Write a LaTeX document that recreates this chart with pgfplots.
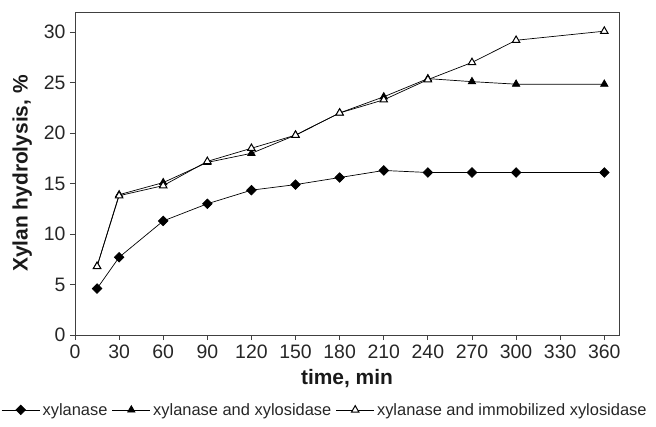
\documentclass[border=0pt]{standalone}
\usepackage{fontspec}
\setmainfont{Liberation Sans}
\usepackage{pgfplots}
\pgfplotsset{compat=1.18}

\begin{document}
\begin{tikzpicture}[x=1bp,y=1bp]
\path[use as bounding box] (-75,-91) rectangle (581,335);
\begin{axis}[
  at={(0,0)}, anchor=south west,
  width=544bp, height=323bp, scale only axis,
  xmin=0, xmax=370, ymin=0, ymax=32,
  xtick={0,30,...,360}, ytick={0,5,...,30},
  tick align=outside, tick pos=left,
  major tick length=5bp,
  /pgf/number format/assume math mode=true,
  ticklabel style={font=\fontsize{19.5}{20}\selectfont, text=black!85},
  xticklabel style={yshift=-1bp},
  yticklabel style={xshift=-1bp},
  xlabel={\textbf{time, min}}, ylabel={\textbf{Xylan hydrolysis, \%}},
  label style={font=\fontsize{21}{22}\selectfont, text=black!90},
  xlabel style={yshift=-4bp},
  ylabel style={yshift=5bp},
  axis line style={black!75, line width=0.9pt},
  every tick/.style={black!75, line width=0.8pt},
  legend columns=-1,
  legend style={draw=none, fill=none, at={(0.460,-0.232)}, anchor=center,
    inner sep=0pt, font=\fontsize{16.5}{17}\selectfont,
    nodes={inner xsep=2.5bp, text=black!85},
    /tikz/every even column/.append style={column sep=2bp}},
  legend image code/.code={
    \draw[#1] (0bp,0bp) -- (38bp,0bp);
    \draw[#1, only marks] plot coordinates {(19bp,0bp)};
  },
  every axis plot/.append style={black, line width=0.7pt},
]
% filled diamonds: a square turned by 45 degrees
\addplot[mark=square*, mark size=3.4pt, mark options={fill=black, solid, rotate=45}] coordinates {
  (15,4.6) (30,7.7) (60,11.3) (90,13.0) (120,14.35) (150,14.9)
  (180,15.6) (210,16.3) (240,16.1) (270,16.1) (300,16.1) (360,16.1)};
\addlegendentry{xylanase}
\addplot[mark=triangle*, mark size=4.3pt, mark options={fill=black, solid}] coordinates {
  (15,6.8) (30,13.9) (60,15.1) (90,17.1) (120,18.0) (150,19.8)
  (180,22.0) (210,23.6) (240,25.4) (270,25.1) (300,24.85) (360,24.85)};
\addlegendentry{xylanase and xylosidase}
\addplot[mark=triangle*, mark size=4.3pt, mark options={fill=white, draw=black, line width=1pt, solid}] coordinates {
  (15,6.8) (30,13.8) (60,14.8) (90,17.2) (120,18.5) (150,19.8)
  (180,22.0) (210,23.3) (240,25.3) (270,27.0) (300,29.2) (360,30.1)};
\addlegendentry{xylanase and immobilized xylosidase}
\end{axis}
\end{tikzpicture}
\end{document}
